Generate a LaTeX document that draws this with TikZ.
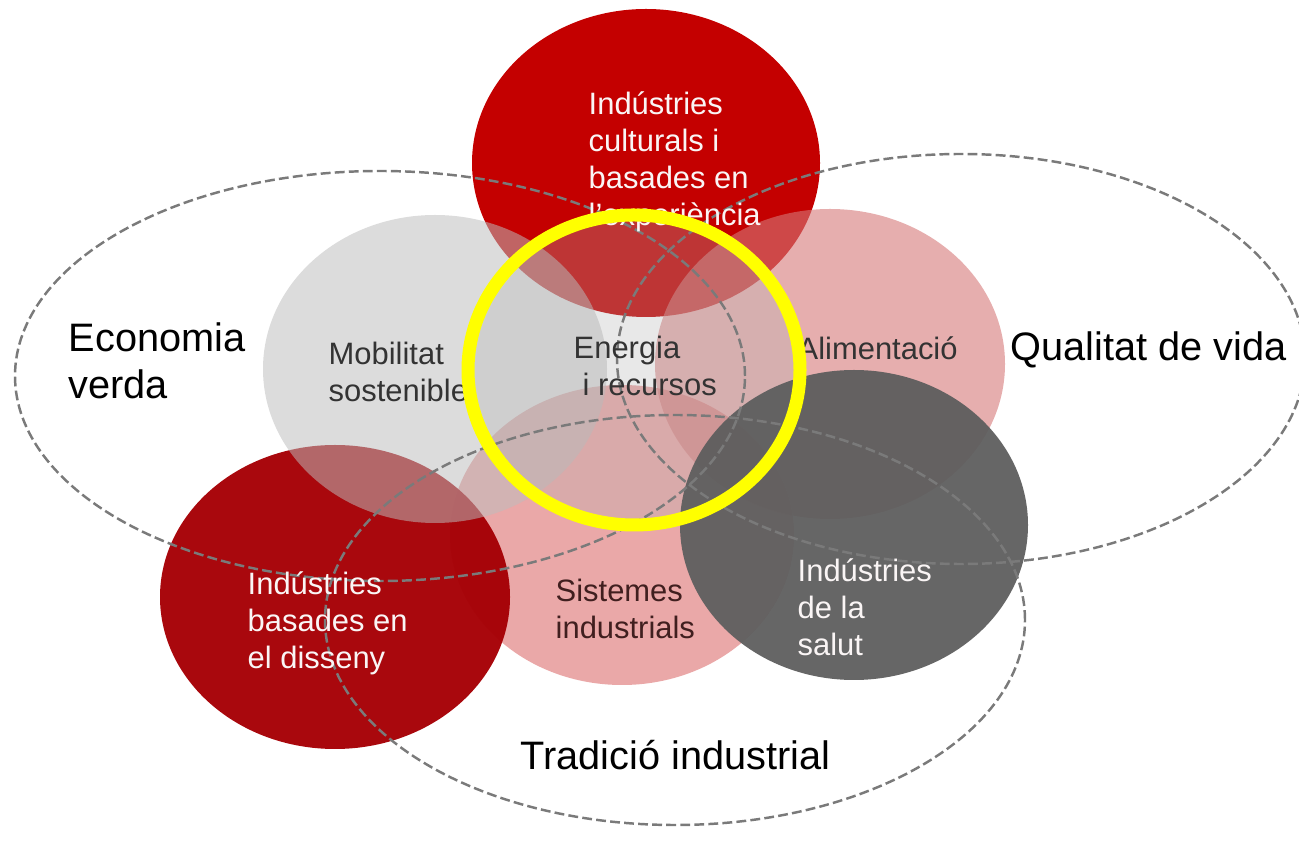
\documentclass[tikz,border=0pt]{standalone}
\usepackage{fontspec}
\setmainfont{Liberation Sans}
\usepackage{tikz}
\usetikzlibrary{positioning}
\tikzset{zone/.style = {draw = zgrey, dash pattern = on 2.8pt off 1.2pt, line width = 0.7pt}}
\tikzset{small/.style = {align = left, anchor = west, inner sep = 0, font = \fontsize{8.8}{10.5}\selectfont}}
\tikzset{big/.style = {align = left, anchor = west, inner sep = 0, font = \fontsize{11.3}{13.4}\selectfont}}
\tikzset{hilite/.style = {draw = hyellow, line width = 0.13cm}}
\definecolor{cred}{rgb}{0.77, 0, 0}
\definecolor{dred}{rgb}{0.65, 0, 0.02}
\definecolor{spink}{rgb}{0.91, 0.62, 0.62}
\definecolor{apink}{rgb}{0.84, 0.47, 0.47}
\definecolor{mgrey}{rgb}{0.74, 0.74, 0.74}
\definecolor{egrey}{rgb}{0.7, 0.7, 0.7}
\definecolor{hgrey}{rgb}{0.37, 0.37, 0.37}
\definecolor{zgrey}{rgb}{0.48, 0.48, 0.48}
\definecolor{hyellow}{rgb}{1, 1, 0}
\definecolor{tdark}{rgb}{0.2, 0.2, 0.2}
\definecolor{tmaroon}{rgb}{0.25, 0.12, 0.12}
\definecolor{cwhite}{rgb}{0.98, 0.96, 0.96}

\begin{document}
\begin{tikzpicture}
  \useasboundingbox (0, 0) rectangle (12.99, 8.66);

  \fill [cred] (6.46, 7.03) ellipse (1.74 and 1.54);
  \fill [spink, opacity = 0.9] (6.22, 3.31) ellipse (1.72 and 1.50);
  \fill [apink, opacity = 0.6] (8.30, 5.02) ellipse (1.75 and 1.55);
  \fill [dred, opacity = 0.97] (3.35, 2.69) ellipse (1.75 and 1.52);
  \fill [mgrey, opacity = 0.53] (4.35, 4.97) ellipse (1.72 and 1.54);
  \fill [egrey, opacity = 0.3] (6.34, 4.96) ellipse (1.66 and 1.55);
  \fill [hgrey, opacity = 0.95] (8.54, 3.41) ellipse (1.74 and 1.55);

  \foreach \cx/\cy/\rx in {3.80/4.90/3.65, 9.61/5.07/3.44, 6.75/2.46/3.50} {
    \draw [zone] (\cx, \cy) ellipse [x radius = \rx, y radius = 2.05];
  }

  \node [small, text = cwhite] (cult) at (5.88, 7.04) {Indústries\\culturals i\\basades en\\l'experiència};
  \node [small, text = tdark] (mob) at (3.28, 4.94) {Mobilitat\\sostenible};
  \node [small, text = tdark] (ener) at (5.73, 5.00) {Energia\\\hspace*{0.09cm}i recursos};
  \node [small, text = tdark] (alim) at (7.97, 5.18) {Alimentació};
  \node [small, text = cwhite] (diss) at (2.47, 2.43) {Indústries\\basades en\\el disseny};
  \node [small, text = tmaroon] (sist) at (5.55, 2.57) {Sistemes\\industrials};
  \node [small, text = cwhite] (salut) at (7.97, 2.59) {Indústries\\de la\\salut};

  \node [big] (econ) at (0.68, 5.05) {Economia\\verda};
  \node [big] (qual) at (10.10, 5.16) {Qualitat de vida};
  \node [big] (trad) at (5.20, 1.11) {Tradició industrial};

  \draw [hilite] (6.34, 4.96) ellipse (1.66 and 1.55);
\end{tikzpicture}
\end{document}
